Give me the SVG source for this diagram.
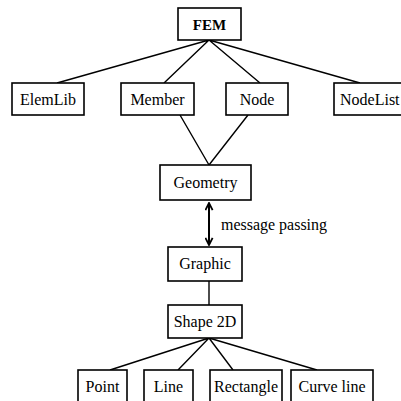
<svg xmlns="http://www.w3.org/2000/svg" width="401" height="401" viewBox="0 0 401 401">
<defs>
<style>
.box{fill:#fff;stroke:#000;stroke-width:1.6}
.t{font-family:"Liberation Serif","Times New Roman",serif;font-size:16px;fill:#000;text-anchor:middle}
.b{font-weight:bold;font-size:15px}
.c{fill:none;stroke:#000;stroke-width:1.4}
.arr{fill:none;stroke:#000;stroke-width:2}
</style>
<marker id="ah" viewBox="0 0 10 10" refX="9" refY="5" markerWidth="9" markerHeight="9" markerUnits="userSpaceOnUse" orient="auto-start-reverse">
<path d="M1,1 L9,5 L1,9" fill="none" stroke="#000" stroke-width="2"/>
</marker>
</defs>
<rect width="401" height="401" fill="#fff"/>
<g id="connectors">
<path class="c" d="M209,40 L57,83 M209,40 L164,83 M209,40 L260,83 M209,40 L360,83"/>
<path class="c" d="M180,115 L209,165 M248,115 L209,165"/>
<line class="arr" x1="209" y1="203" x2="209" y2="245" marker-start="url(#ah)" marker-end="url(#ah)"/>
<path class="c" d="M209,281 L209,305"/>
<path class="c" d="M209,338 L110,370 M209,338 L178,370 M209,338 L233,370 M209,338 L317,370"/>
</g>
<text class="t" x="221" y="230" style="text-anchor:start" textLength="106" lengthAdjust="spacingAndGlyphs">message passing</text>
<g id="FEM"><rect class="box" x="178" y="8" width="63" height="32"/><text class="t b" x="209.5" y="30">FEM</text></g>
<g id="ElemLib"><rect class="box" x="12" y="83" width="72" height="32"/><text class="t" x="48" y="105">ElemLib</text></g>
<g id="Member"><rect class="box" x="121" y="83" width="73" height="32"/><text class="t" x="157.5" y="105">Member</text></g>
<g id="Node"><rect class="box" x="226" y="83" width="62" height="32"/><text class="t" x="257" y="105">Node</text></g>
<g id="NodeList"><rect class="box" x="334" y="83" width="80" height="32"/><text class="t" x="340" y="105" style="text-anchor:start">NodeList</text></g>
<g id="Geometry"><rect class="box" x="160" y="165" width="91" height="35"/><text class="t" x="205.5" y="188">Geometry</text></g>
<g id="Graphic"><rect class="box" x="168" y="247" width="74" height="34"/><text class="t" x="205" y="269">Graphic</text></g>
<g id="Shape2D"><rect class="box" x="168" y="305" width="74" height="33"/><text class="t" x="205" y="327">Shape 2D</text></g>
<g id="Point"><rect class="box" x="78" y="370" width="49" height="40"/><text class="t" x="102.5" y="392">Point</text></g>
<g id="Line"><rect class="box" x="144" y="370" width="49" height="40"/><text class="t" x="168.5" y="392">Line</text></g>
<g id="Rectangle"><rect class="box" x="210" y="370" width="72" height="40"/><text class="t" x="246" y="392">Rectangle</text></g>
<g id="CurveLine"><rect class="box" x="291" y="370" width="82" height="40"/><text class="t" x="332" y="392">Curve line</text></g>
</svg>
